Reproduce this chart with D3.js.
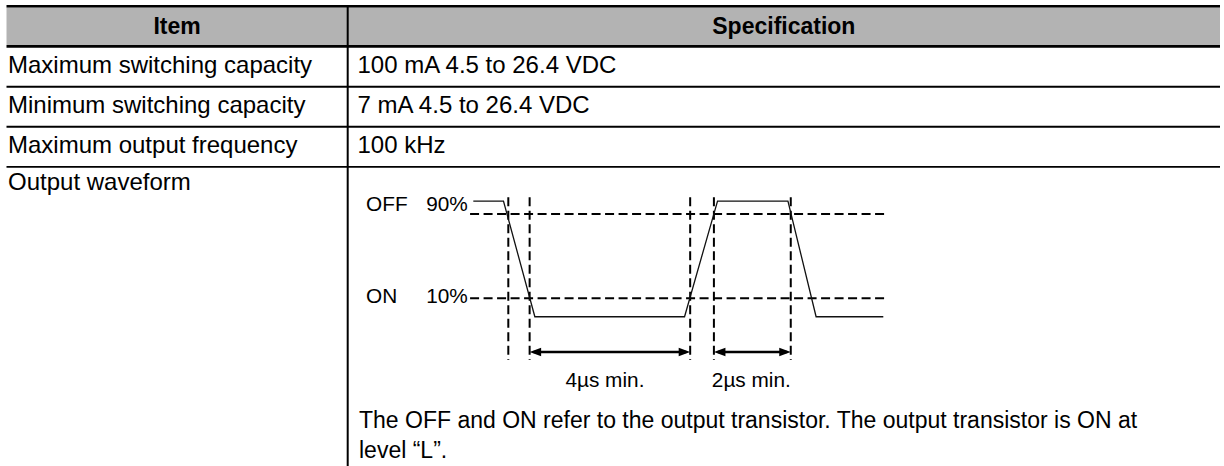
<!DOCTYPE html>
<html><head><meta charset="utf-8">
<script src="https://cdn.jsdelivr.net/npm/d3@7"></script>
<style>
html,body{margin:0;padding:0;background:#fff;}
svg{display:block;}
text{font-family:"Liberation Sans", Arial, Helvetica, sans-serif;fill:#000;}
</style></head><body>
<svg id="c" width="1224" height="466"></svg>
<script>
// ---------------- data ----------------
const headers = ["Item", "Specification"];
const items = ["Maximum switching capacity", "Minimum switching capacity", "Maximum output frequency", "Output waveform"];
const specs = ["100 mA 4.5 to 26.4 VDC", "7 mA 4.5 to 26.4 VDC", "100 kHz", ""];
const note = ["The OFF and ON refer to the output transistor. The output transistor is ON at", "level \u201CL\u201D."];

// waveform: time (µs) and level (%)
const waveTime  = [0, 0.75, 1.53, 5.25, 6.07, 7.82, 8.52, 10.19];
const waveLevel = [102.3, 102.3, -7.5, -7.5, 102.3, 102.3, -7.5, -7.5];
const thresholdLevels = [90, 10];
const thresholdStates = ["OFF", "ON"];
const thresholdLabels = ["90%", "10%"];
const thresholdExtent = [-0.08, 10.28];
const markerTimes = [0.87, 1.40, 5.39, 5.98, 7.89];
const spanStart = [1.40, 5.98];
const spanEnd   = [5.39, 7.89];
const spanLabels = ["4\u00B5s min.", "2\u00B5s min."];

// ---------------- layout ----------------
const svg = d3.select("#c");
const W = 1224, H = 466;
const left = 6.5, right = 1220, divX = 347.7;
const fsHead = 23, fsCell = 24, fsNote = 23, fsSmall = 20.8;

// table frame
svg.append("rect").attr("x", left).attr("y", 7.3).attr("width", right - left).attr("height", 45 - 7.3).attr("fill", "#b3b3b3");
const hLines = [{y: 6.2, w: 2.4}, {y: 46.4, w: 2.8}, {y: 86.7, w: 1.9}, {y: 126.8, w: 1.9}, {y: 166.9, w: 1.9}];
svg.selectAll("line.h").data(hLines).join("line").attr("class", "h")
  .attr("x1", left).attr("x2", right).attr("y1", d => d.y).attr("y2", d => d.y)
  .attr("stroke", "#000").attr("stroke-width", d => d.w);
svg.append("line").attr("x1", divX).attr("x2", divX).attr("y1", 5).attr("y2", H)
  .attr("stroke", "#000").attr("stroke-width", 2);

// header
const headerX = [(left + divX) / 2, (divX + right) / 2];
svg.selectAll("text.hd").data(headers).join("text").attr("class", "hd")
  .attr("x", (d, i) => headerX[i]).attr("y", 33.6).attr("text-anchor", "middle")
  .attr("font-weight", "bold").attr("font-size", fsHead).text(d => d);

// rows
const baselines = [73.2, 113.2, 153.2, 189.6];
svg.selectAll("text.item").data(items).join("text").attr("class", "item")
  .attr("x", 8).attr("y", (d, i) => baselines[i]).attr("font-size", fsCell).text(d => d);
svg.selectAll("text.spec").data(specs).join("text").attr("class", "spec")
  .attr("x", 357.5).attr("y", (d, i) => baselines[i]).attr("font-size", fsCell).text(d => d);

// note
svg.selectAll("text.note").data(note).join("text").attr("class", "note")
  .attr("x", 359).attr("y", (d, i) => 427.5 + i * 30.5).attr("font-size", fsNote).text(d => d);

// ---------------- waveform ----------------
const x = d3.scaleLinear().domain([0, 10.19]).range([473.3, 883.3]);
const y = d3.scaleLinear().domain([10, 90]).range([298.3, 214]);
const dash = "9,4.5";

// threshold dashed lines
svg.selectAll("line.th").data(thresholdLevels).join("line").attr("class", "th")
  .attr("x1", x(thresholdExtent[0])).attr("x2", x(thresholdExtent[1]))
  .attr("y1", d => y(d)).attr("y2", d => y(d))
  .attr("stroke", "#000").attr("stroke-width", 2).attr("stroke-dasharray", dash);

// vertical markers
const topLevel = d3.max(waveLevel);
svg.selectAll("line.mk").data(markerTimes).join("line").attr("class", "mk")
  .attr("x1", d => x(d)).attr("x2", d => x(d))
  .attr("y1", y(topLevel) - 3.7).attr("y2", 360)
  .attr("stroke", "#000").attr("stroke-width", 2).attr("stroke-dasharray", dash);

// waveform
const pts = waveTime.map((t, i) => [t, waveLevel[i]]);
svg.append("path").datum(pts)
  .attr("d", d3.line().x(d => x(d[0])).y(d => y(d[1])))
  .attr("fill", "none").attr("stroke", "#111").attr("stroke-width", 1.3);

// threshold labels
const labY = [211, 303];
svg.selectAll("text.st").data(thresholdStates).join("text").attr("class", "st")
  .attr("x", 366).attr("y", (d, i) => labY[i]).attr("font-size", fsSmall).text(d => d);
svg.selectAll("text.pc").data(thresholdLabels).join("text").attr("class", "pc")
  .attr("x", x(thresholdExtent[0]) - 2.3).attr("y", (d, i) => labY[i]).attr("text-anchor", "end")
  .attr("font-size", fsSmall).text(d => d);

// dimension arrows
const ay = 352, aL = 11.5, aH = 4.2;
const spans = spanStart.map((s, i) => ({s, e: spanEnd[i], label: spanLabels[i]}));
const g = svg.selectAll("g.span").data(spans).join("g").attr("class", "span");
g.append("line").attr("x1", d => x(d.s) + 4).attr("x2", d => x(d.e) - 4)
  .attr("y1", ay).attr("y2", ay).attr("stroke", "#000").attr("stroke-width", 2.7);
g.append("path").attr("d", d => `M${x(d.s)},${ay}L${x(d.s) + aL},${ay - aH}L${x(d.s) + aL},${ay + aH}Z`).attr("fill", "#000");
g.append("path").attr("d", d => `M${x(d.e)},${ay}L${x(d.e) - aL},${ay - aH}L${x(d.e) - aL},${ay + aH}Z`).attr("fill", "#000");
g.append("text").attr("x", d => (x(d.s) + x(d.e)) / 2 - (d.e - d.s > 3 ? 5 : 1)).attr("y", 387)
  .attr("text-anchor", "middle").attr("font-size", fsSmall).text(d => d.label);
</script>
</body></html>
